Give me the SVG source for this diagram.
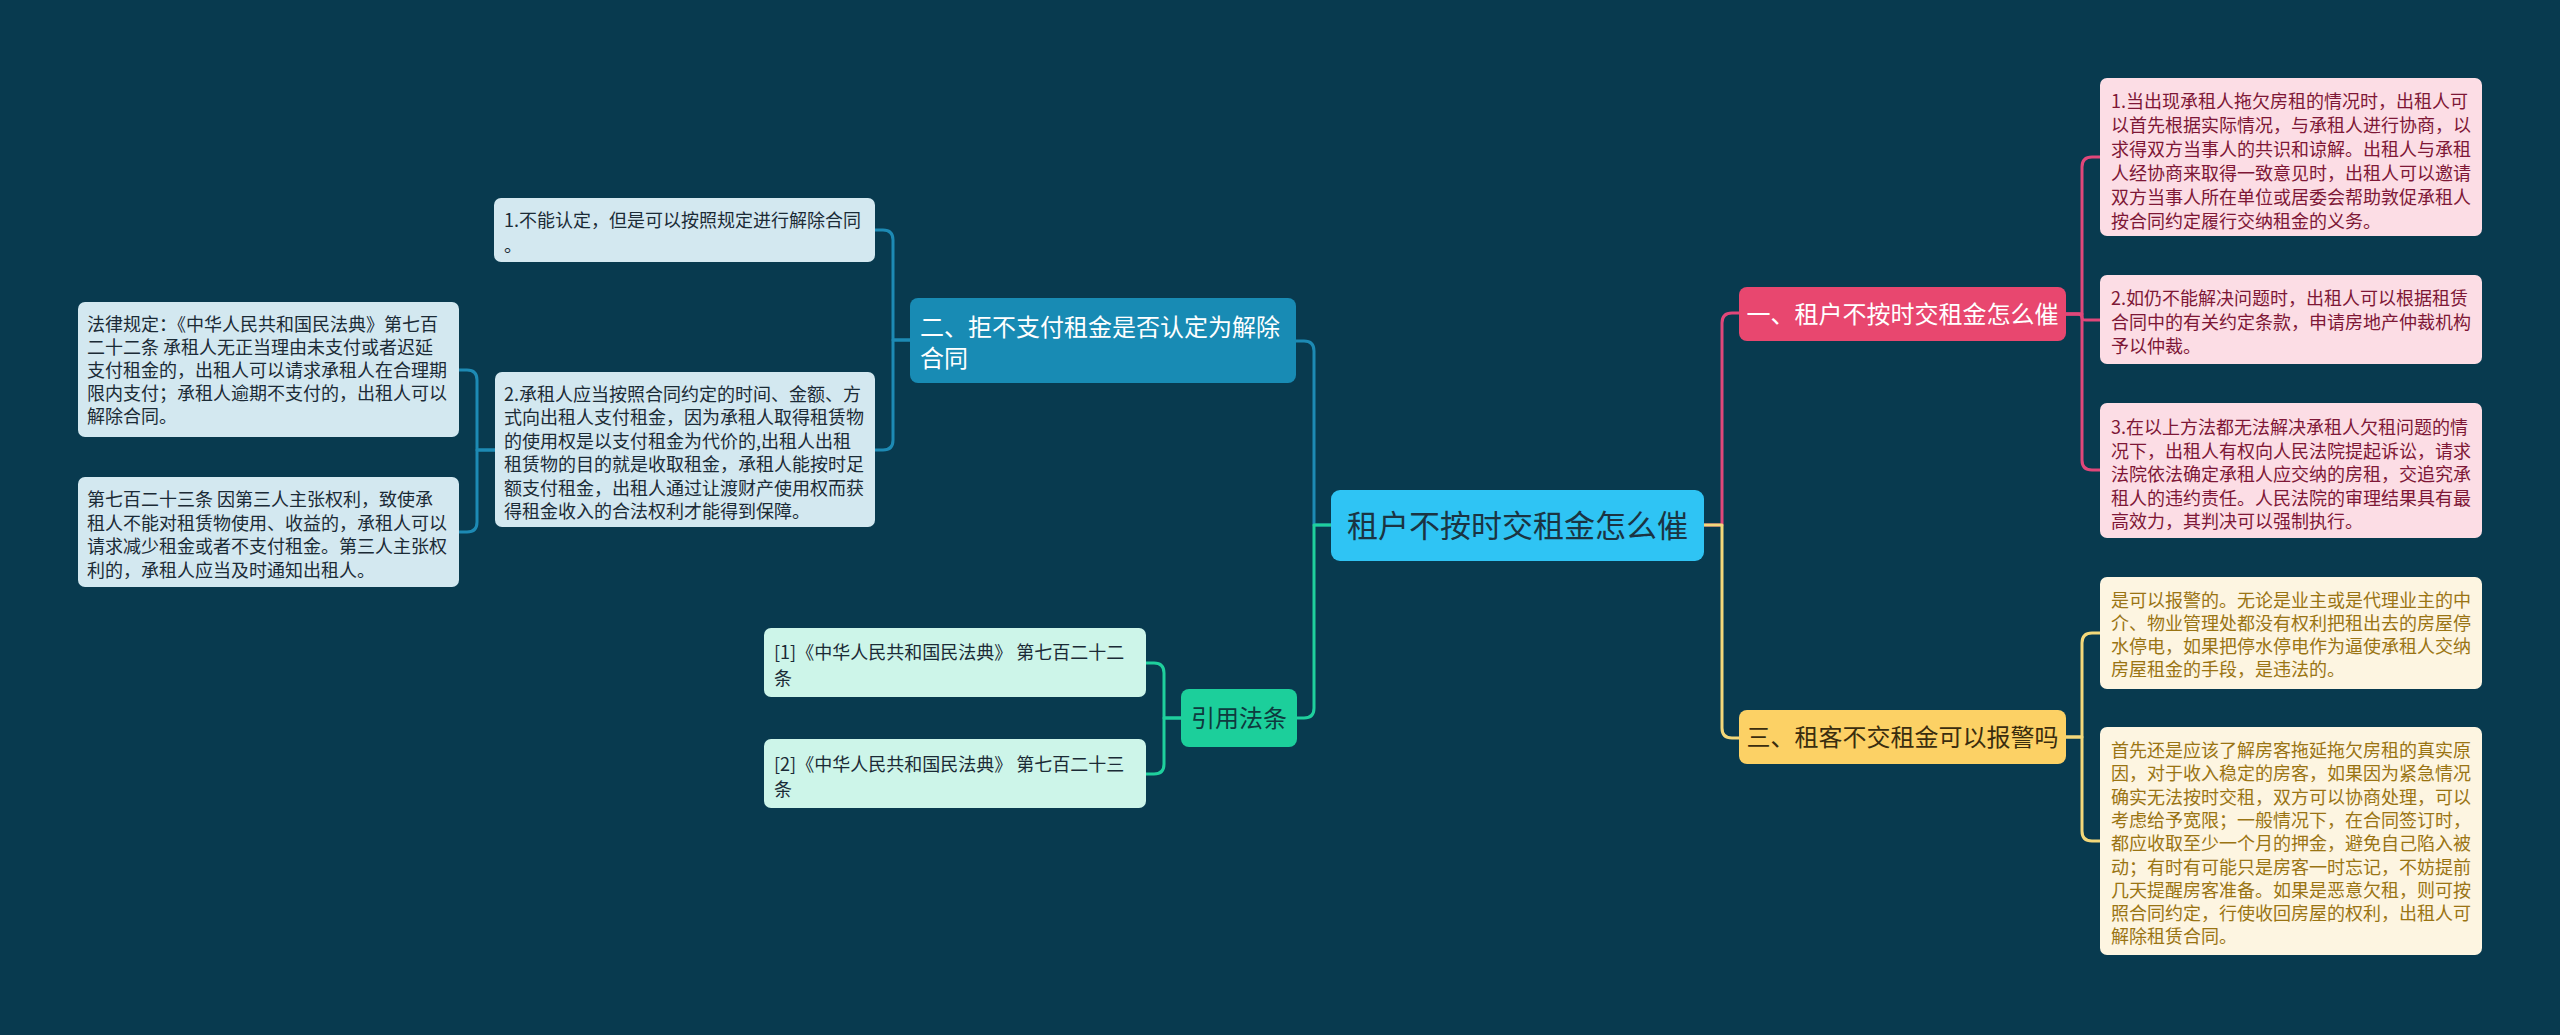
<svg xmlns="http://www.w3.org/2000/svg" width="2560" height="1035" viewBox="0 0 2560 1035">
<style>
text{font-family:"Noto Sans CJK SC","Microsoft YaHei",sans-serif;}
.c{fill:none;stroke-width:3;stroke-linecap:round;stroke-linejoin:round;}
.cb{stroke:#1d8ab4;} .cg{stroke:#1fcf9d;} .cp{stroke:#e0477a;} .cy{stroke:#f3d87a;}
.t18{font-size:18px;}
.pk{fill:#fcdde5;} .pkt{fill:#7e1736;}
.yl{fill:#fdf5e1;} .ylt{fill:#9a7413;}
.bl{fill:#d3e8f0;} .blt{fill:#1b2b36;}
.gr{fill:#cdf5e9;} .grt{fill:#1b2b36;}
</style>
<rect width="2560" height="1035" fill="#083a4f"/>
<g id="connectors">
<path class="c cp" d="M1704,525 H1722 V323 Q1722,313 1732,313 H1739"/>
<path class="c cy" d="M1704,525 H1722 V728 Q1722,738 1732,738 H1739"/>
<path class="c cb" d="M1331,525 H1314 V351 Q1314,341 1304,341 H1296"/>
<path class="c cg" d="M1331,525 H1314 V708 Q1314,718 1304,718 H1297"/>
<path class="c cp" d="M2066,314 H2082 V167 Q2082,157 2092,157 H2100"/>
<path class="c cp" d="M2066,314 H2078 Q2082,314 2082,318 Q2082,320 2086,320 H2100"/>
<path class="c cp" d="M2066,314 H2082 V460 Q2082,470 2092,470 H2100"/>
<path class="c cy" d="M2066,737 H2082 V643 Q2082,633 2092,633 H2100"/>
<path class="c cy" d="M2066,737 H2082 V831 Q2082,841 2092,841 H2100"/>
<path class="c cb" d="M910,340 H893 V240 Q893,230 883,230 H875"/>
<path class="c cb" d="M910,340 H893 V440 Q893,450 883,450 H875"/>
<path class="c cb" d="M495,450 H477 V380 Q477,370 467,370 H459"/>
<path class="c cb" d="M495,450 H477 V522 Q477,532 467,532 H459"/>
<path class="c cg" d="M1181,718 H1164 V673 Q1164,663 1154,663 H1146"/>
<path class="c cg" d="M1181,718 H1164 V764 Q1164,774 1154,774 H1146"/>
</g>
<g id="root">
<rect x="1331" y="490" width="373" height="71" rx="9" fill="#2fc4f4"/>
<text x="1517.5" y="537" font-size="31" text-anchor="middle" fill="#1b3442">租户不按时交租金怎么催</text>
</g>
<g id="n1">
<rect x="1739" y="287" width="327" height="54" rx="8" fill="#e8476f"/>
<text x="1902.5" y="323" font-size="24" text-anchor="middle" fill="#ffffff">一、租户不按时交租金怎么催</text>
</g>
<g id="n3">
<rect x="1739" y="710" width="327" height="54" rx="8" fill="#fcd165"/>
<text x="1902.5" y="746" font-size="24" text-anchor="middle" fill="#3a2d0e">三、租客不交租金可以报警吗</text>
</g>
<g id="n2">
<rect x="910" y="298" width="386" height="85" rx="8" fill="#188bb4"/>
<text font-size="24" fill="#ffffff"><tspan x="920" y="336">二、拒不支付租金是否认定为解除</tspan><tspan x="920" y="367">合同</tspan></text>
</g>
<g id="n4">
<rect x="1181" y="689" width="116" height="58" rx="8" fill="#1ccf9b"/>
<text x="1239" y="727" font-size="24" text-anchor="middle" fill="#0e3a3e">引用法条</text>
</g>
<g id="p1">
<rect class="pk" x="2100" y="78" width="382" height="158" rx="7"/>
<text class="t18 pkt"><tspan x="2111" y="107.5">1.当出现承租人拖欠房租的情况时，出租人可</tspan><tspan x="2111" y="131.5">以首先根据实际情况，与承租人进行协商，以</tspan><tspan x="2111" y="155.5">求得双方当事人的共识和谅解。出租人与承租</tspan><tspan x="2111" y="179.5">人经协商来取得一致意见时，出租人可以邀请</tspan><tspan x="2111" y="203.5">双方当事人所在单位或居委会帮助敦促承租人</tspan><tspan x="2111" y="227.5">按合同约定履行交纳租金的义务。</tspan></text>
</g>
<g id="p2">
<rect class="pk" x="2100" y="275" width="382" height="89" rx="7"/>
<text class="t18 pkt"><tspan x="2111" y="305">2.如仍不能解决问题时，出租人可以根据租赁</tspan><tspan x="2111" y="329">合同中的有关约定条款，申请房地产仲裁机构</tspan><tspan x="2111" y="353">予以仲裁。</tspan></text>
</g>
<g id="p3">
<rect class="pk" x="2100" y="403" width="382" height="135" rx="7"/>
<text class="t18 pkt"><tspan x="2111" y="434">3.在以上方法都无法解决承租人欠租问题的情</tspan><tspan x="2111" y="457.5">况下，出租人有权向人民法院提起诉讼，请求</tspan><tspan x="2111" y="481">法院依法确定承租人应交纳的房租，交追究承</tspan><tspan x="2111" y="504.5">租人的违约责任。人民法院的审理结果具有最</tspan><tspan x="2111" y="528">高效力，其判决可以强制执行。</tspan></text>
</g>
<g id="y1">
<rect class="yl" x="2100" y="577" width="382" height="112" rx="7"/>
<text class="t18 ylt"><tspan x="2111" y="607">是可以报警的。无论是业主或是代理业主的中</tspan><tspan x="2111" y="630">介、物业管理处都没有权利把租出去的房屋停</tspan><tspan x="2111" y="653">水停电，如果把停水停电作为逼使承租人交纳</tspan><tspan x="2111" y="676">房屋租金的手段，是违法的。</tspan></text>
</g>
<g id="y2">
<rect class="yl" x="2100" y="727" width="382" height="228" rx="7"/>
<text class="t18 ylt"><tspan x="2111" y="757">首先还是应该了解房客拖延拖欠房租的真实原</tspan><tspan x="2111" y="780.3">因，对于收入稳定的房客，如果因为紧急情况</tspan><tspan x="2111" y="803.6">确实无法按时交租，双方可以协商处理，可以</tspan><tspan x="2111" y="826.9">考虑给予宽限；一般情况下，在合同签订时，</tspan><tspan x="2111" y="850.2">都应收取至少一个月的押金，避免自己陷入被</tspan><tspan x="2111" y="873.5">动；有时有可能只是房客一时忘记，不妨提前</tspan><tspan x="2111" y="896.8">几天提醒房客准备。如果是恶意欠租，则可按</tspan><tspan x="2111" y="920.1">照合同约定，行使收回房屋的权利，出租人可</tspan><tspan x="2111" y="943.4">解除租赁合同。</tspan></text>
</g>
<g id="b1">
<rect class="bl" x="494" y="198" width="381" height="64" rx="7"/>
<text class="t18 blt"><tspan x="504" y="226.5">1.不能认定，但是可以按照规定进行解除合同</tspan><tspan x="504" y="251.5">。</tspan></text>
</g>
<g id="b2">
<rect class="bl" x="495" y="372" width="380" height="155" rx="7"/>
<text class="t18 blt"><tspan x="504" y="400.5">2.承租人应当按照合同约定的时间、金额、方</tspan><tspan x="504" y="424">式向出租人支付租金，因为承租人取得租赁物</tspan><tspan x="504" y="447.5">的使用权是以支付租金为代价的,出租人出租</tspan><tspan x="504" y="471">租赁物的目的就是收取租金，承租人能按时足</tspan><tspan x="504" y="494.5">额支付租金，出租人通过让渡财产使用权而获</tspan><tspan x="504" y="518">得租金收入的合法权利才能得到保障。</tspan></text>
</g>
<g id="b3">
<rect class="bl" x="78" y="302" width="381" height="135" rx="7"/>
<text class="t18 blt"><tspan x="87" y="331">法律规定：《中华人民共和国民法典》第七百</tspan><tspan x="87" y="354">二十二条 承租人无正当理由未支付或者迟延</tspan><tspan x="87" y="377">支付租金的，出租人可以请求承租人在合理期</tspan><tspan x="87" y="400">限内支付；承租人逾期不支付的，出租人可以</tspan><tspan x="87" y="423">解除合同。</tspan></text>
</g>
<g id="b4">
<rect class="bl" x="78" y="477" width="381" height="110" rx="7"/>
<text class="t18 blt"><tspan x="87" y="506">第七百二十三条 因第三人主张权利，致使承</tspan><tspan x="87" y="529.5">租人不能对租赁物使用、收益的，承租人可以</tspan><tspan x="87" y="553">请求减少租金或者不支付租金。第三人主张权</tspan><tspan x="87" y="576.5">利的，承租人应当及时通知出租人。</tspan></text>
</g>
<g id="r1">
<rect class="gr" x="764" y="628" width="382" height="69" rx="7"/>
<text class="t18 grt"><tspan x="774" y="658.5">[1]《中华人民共和国民法典》 第七百二十二</tspan><tspan x="774" y="684.5">条</tspan></text>
</g>
<g id="r2">
<rect class="gr" x="764" y="739" width="382" height="69" rx="7"/>
<text class="t18 grt"><tspan x="774" y="770.5">[2]《中华人民共和国民法典》 第七百二十三</tspan><tspan x="774" y="795.5">条</tspan></text>
</g>
</svg>
